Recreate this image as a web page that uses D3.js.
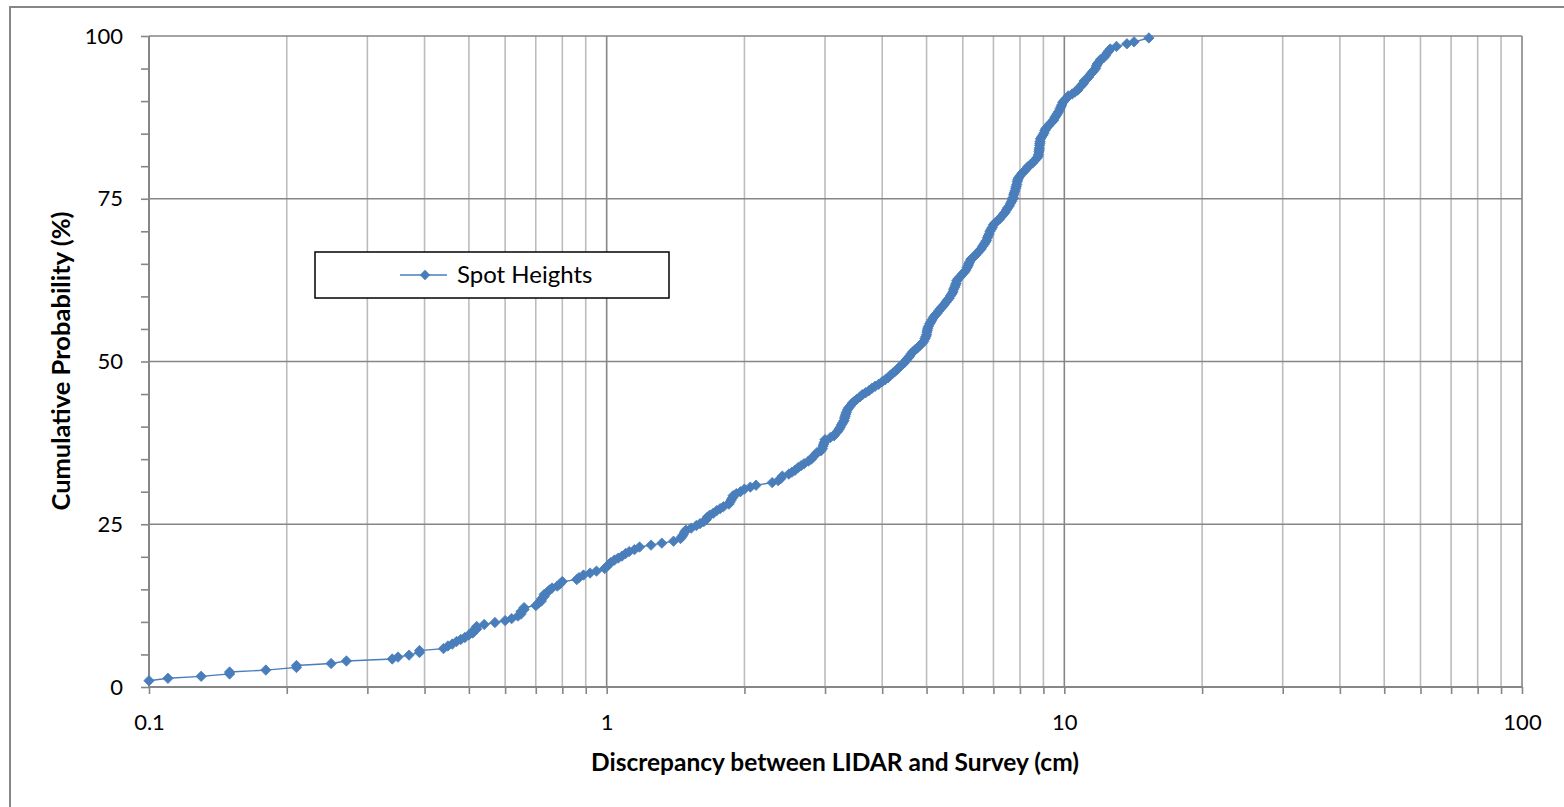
<!DOCTYPE html>
<html>
<head>
<meta charset="utf-8">
<script src="https://cdn.jsdelivr.net/npm/d3@7"></script>
<style>
  html, body { margin: 0; padding: 0; background: #ffffff; }
  svg { display: block; }
  text { font-family: Lato, "Open Sans", "Liberation Sans", sans-serif; fill: #000; }
</style>
</head>
<body>
<svg id="chart" width="1564" height="807"></svg>
<script>
// Absolute discrepancy between LIDAR and surveyed spot heights (cm), sorted
const discrepancyCm = [
  0.10, 0.11, 0.13, 0.15, 0.15, 0.18, 0.21, 0.21, 0.25, 0.27,
  0.34, 0.35, 0.37, 0.39, 0.39, 0.44, 0.45, 0.46, 0.47, 0.48,
  0.49, 0.50, 0.51, 0.51, 0.52, 0.52, 0.54, 0.57, 0.60, 0.62,
  0.64, 0.65, 0.65, 0.66, 0.66, 0.70, 0.71, 0.72, 0.72, 0.73,
  0.73, 0.74, 0.75, 0.76, 0.78, 0.79, 0.80, 0.86, 0.87, 0.89,
  0.92, 0.95, 0.99, 1.00, 1.01, 1.02, 1.04, 1.06, 1.08, 1.10,
  1.12, 1.15, 1.18, 1.25, 1.32, 1.40, 1.45, 1.46, 1.47, 1.48,
  1.49, 1.53, 1.57, 1.60, 1.63, 1.65, 1.66, 1.68, 1.71, 1.74,
  1.77, 1.80, 1.85, 1.86, 1.87, 1.88, 1.89, 1.92, 1.96, 2.00,
  2.06, 2.12, 2.30, 2.37, 2.40, 2.42, 2.50, 2.54, 2.58, 2.62,
  2.66, 2.70, 2.76, 2.80, 2.82, 2.85, 2.88, 2.94, 2.96, 2.97,
  2.98, 2.99, 3.00, 3.08, 3.14, 3.17, 3.20, 3.22, 3.24, 3.26,
  3.28, 3.30, 3.31, 3.32, 3.33, 3.34, 3.36, 3.38, 3.41, 3.44,
  3.48, 3.52, 3.58, 3.62, 3.68, 3.74, 3.80, 3.86, 3.93, 4.00,
  4.06, 4.12, 4.17, 4.22, 4.27, 4.32, 4.37, 4.42, 4.47, 4.51,
  4.55, 4.59, 4.63, 4.67, 4.72, 4.78, 4.84, 4.89, 4.93, 4.96,
  4.98, 5.00, 5.01, 5.02, 5.03, 5.05, 5.08, 5.11, 5.14, 5.18,
  5.22, 5.27, 5.32, 5.36, 5.41, 5.46, 5.51, 5.55, 5.60, 5.64,
  5.68, 5.71, 5.73, 5.76, 5.78, 5.80, 5.82, 5.86, 5.92, 5.98,
  6.04, 6.09, 6.13, 6.16, 6.18, 6.21, 6.25, 6.32, 6.39, 6.46,
  6.52, 6.58, 6.63, 6.68, 6.72, 6.76, 6.79, 6.82, 6.85, 6.88,
  6.92, 6.96, 7.00, 7.06, 7.14, 7.22, 7.30, 7.36, 7.42, 7.48,
  7.52, 7.58, 7.63, 7.67, 7.71, 7.73, 7.75, 7.77, 7.80, 7.83,
  7.85, 7.87, 7.89, 7.91, 7.94, 8.00, 8.08, 8.16, 8.24, 8.32,
  8.42, 8.52, 8.62, 8.70, 8.76, 8.78, 8.80, 8.81, 8.82, 8.83,
  8.84, 8.85, 8.87, 8.92, 8.98, 9.03, 9.07, 9.12, 9.20, 9.30,
  9.40, 9.48, 9.54, 9.60, 9.66, 9.72, 9.78, 9.83, 9.87, 9.92,
  10.0, 10.1, 10.2, 10.4, 10.55, 10.7, 10.8, 10.9, 11.0, 11.05,
  11.2, 11.3, 11.4, 11.5, 11.6, 11.7, 11.75, 11.8, 11.9, 12.0,
  12.2, 12.3, 12.4, 12.5, 12.6, 13.0, 13.7, 14.2, 15.3
];

// Cumulative probability (%) for each sorted discrepancy
const cumulativePct = [
  0.97, 1.34, 1.64, 2.0, 2.3, 2.6, 3.0, 3.3, 3.6, 4.0,
  4.3, 4.6, 4.9, 5.3, 5.6, 5.9, 6.3, 6.6, 7.0, 7.3,
  7.6, 8.0, 8.3, 8.6, 8.9, 9.3, 9.6, 9.9, 10.2, 10.5,
  10.9, 11.2, 11.6, 11.9, 12.2, 12.5, 12.9, 13.2, 13.5, 13.9,
  14.2, 14.5, 14.9, 15.2, 15.5, 15.8, 16.2, 16.5, 16.8, 17.2,
  17.5, 17.8, 18.2, 18.5, 18.8, 19.1, 19.5, 19.8, 20.1, 20.5,
  20.8, 21.1, 21.5, 21.8, 22.1, 22.4, 22.8, 23.1, 23.4, 23.8,
  24.1, 24.4, 24.8, 25.1, 25.4, 25.7, 26.1, 26.4, 26.7, 27.1,
  27.4, 27.7, 28.1, 28.4, 28.7, 29.0, 29.4, 29.7, 30.0, 30.4,
  30.7, 31.0, 31.4, 31.7, 32.0, 32.4, 32.7, 33.0, 33.3, 33.7,
  34.0, 34.3, 34.7, 35.0, 35.3, 35.6, 36.0, 36.3, 36.6, 37.0,
  37.3, 37.6, 38.0, 38.3, 38.6, 39.0, 39.3, 39.6, 39.9, 40.3,
  40.6, 40.9, 41.3, 41.6, 41.9, 42.2, 42.6, 42.9, 43.2, 43.6,
  43.9, 44.2, 44.6, 44.9, 45.2, 45.5, 45.9, 46.2, 46.5, 46.9,
  47.2, 47.5, 47.9, 48.2, 48.5, 48.8, 49.2, 49.5, 49.8, 50.2,
  50.5, 50.8, 51.2, 51.5, 51.8, 52.1, 52.5, 52.8, 53.1, 53.5,
  53.8, 54.1, 54.5, 54.8, 55.1, 55.4, 55.8, 56.1, 56.4, 56.8,
  57.1, 57.4, 57.8, 58.1, 58.4, 58.7, 59.1, 59.4, 59.7, 60.1,
  60.4, 60.7, 61.1, 61.4, 61.7, 62.0, 62.4, 62.7, 63.0, 63.4,
  63.7, 64.0, 64.4, 64.7, 65.0, 65.3, 65.7, 66.0, 66.3, 66.7,
  67.0, 67.3, 67.7, 68.0, 68.3, 68.6, 69.0, 69.3, 69.6, 70.0,
  70.3, 70.6, 71.0, 71.3, 71.6, 71.9, 72.3, 72.6, 72.9, 73.3,
  73.6, 73.9, 74.3, 74.6, 74.9, 75.2, 75.6, 75.9, 76.2, 76.6,
  76.9, 77.2, 77.6, 77.9, 78.2, 78.5, 78.9, 79.2, 79.5, 79.9,
  80.2, 80.5, 80.9, 81.2, 81.5, 81.8, 82.2, 82.5, 82.8, 83.2,
  83.5, 83.8, 84.2, 84.5, 84.8, 85.1, 85.5, 85.8, 86.1, 86.5,
  86.8, 87.1, 87.5, 87.8, 88.1, 88.4, 88.8, 89.1, 89.4, 89.8,
  90.1, 90.4, 90.8, 91.1, 91.4, 91.7, 92.1, 92.4, 92.7, 93.1,
  93.4, 93.7, 94.1, 94.4, 94.7, 95.0, 95.4, 95.7, 96.0, 96.4,
  96.7, 97.0, 97.4, 97.7, 98.0, 98.4, 98.8, 99.1, 99.7
];

const seriesName = "Spot Heights";
const xTickLabels = [0.1, 1, 10, 100];
const yTickLabels = [0, 25, 50, 75, 100];
const xTitle = "Discrepancy between LIDAR and Survey (cm)";
const yTitle = "Cumulative Probability (%)";

const points = discrepancyCm.map((d, i) => ({ x: d, y: cumulativePct[i] }));

const svg = d3.select("#chart");
const plot = { left: 149, right: 1522, top: 36, bottom: 687 };
const axisGrey = "#868686";
const minorGrey = "#bcbcbc";
const seriesBlue = "#4a7ebb";

const x = d3.scaleLog().domain([0.1, 100]).range([plot.left, plot.right]);
const y = d3.scaleLinear().domain([0, 100]).range([plot.bottom, plot.top]);

// Chart area border
svg.append("rect")
  .attr("x", 10).attr("y", 7)
  .attr("width", 1600).attr("height", 850)
  .attr("fill", "#fff")
  .attr("stroke", axisGrey).attr("stroke-width", 2);

// Every 1..9 step of each decade for ticks and vertical gridlines
const decadeSteps = [];
[0.1, 1, 10].forEach(base => {
  for (let k = 1; k <= 9; k++) decadeSteps.push(+(base * k).toPrecision(3));
});
decadeSteps.push(100);
const isDecade = v => xTickLabels.includes(v);

const grid = svg.append("g");
grid.selectAll("line.vminor")
  .data(decadeSteps.filter(v => !isDecade(v)))
  .join("line")
  .attr("x1", d => x(d)).attr("x2", d => x(d))
  .attr("y1", plot.top).attr("y2", plot.bottom)
  .attr("stroke", minorGrey).attr("stroke-width", 1.6);
grid.selectAll("line.vmajor")
  .data(xTickLabels.filter(v => v > 0.1))
  .join("line")
  .attr("x1", d => x(d)).attr("x2", d => x(d))
  .attr("y1", plot.top).attr("y2", plot.bottom)
  .attr("stroke", axisGrey).attr("stroke-width", 1.6);
grid.selectAll("line.h")
  .data(yTickLabels.filter(v => v > 0))
  .join("line")
  .attr("x1", plot.left).attr("x2", plot.right)
  .attr("y1", d => y(d)).attr("y2", d => y(d))
  .attr("stroke", axisGrey).attr("stroke-width", 1.6);

// X axis
const xAxis = d3.axisBottom(x)
  .tickValues(decadeSteps)
  .tickSize(7)
  .tickPadding(20)
  .tickFormat(d => isDecade(d) ? String(d) : "");
const gx = svg.append("g")
  .attr("transform", `translate(0,${plot.bottom})`)
  .call(xAxis);

// Y axis
const yMinor = d3.range(0, 101, 5);
const yAxis = d3.axisLeft(y)
  .tickValues(yMinor)
  .tickSize(8)
  .tickPadding(18)
  .tickFormat(d => yTickLabels.includes(d) ? String(d) : "");
const gy = svg.append("g")
  .attr("transform", `translate(${plot.left},0)`)
  .call(yAxis);

[gx, gy].forEach(g => {
  g.select(".domain").attr("stroke", axisGrey).attr("stroke-width", 2);
  g.selectAll(".tick line").attr("stroke", axisGrey).attr("stroke-width", 1.6);
  g.selectAll(".tick text")
    .attr("font-family", "Lato, 'Open Sans', sans-serif")
    .attr("font-size", 22).attr("fill", "#000");
});
gx.select(".domain").attr("d", `M${plot.left},0H${plot.right}`);
gy.select(".domain").attr("d", `M0,${plot.bottom}V${plot.top}`);

// Series line and diamond markers
const line = d3.line().x(d => x(d.x)).y(d => y(d.y));
svg.append("path")
  .datum(points)
  .attr("fill", "none")
  .attr("stroke", seriesBlue)
  .attr("stroke-width", 1.4)
  .attr("d", line);

const r = 5.2;
const diamond = `M0,${-r}L${r},0L0,${r}L${-r},0Z`;
svg.append("g").selectAll("path")
  .data(points)
  .join("path")
  .attr("transform", d => `translate(${x(d.x)},${y(d.y)})`)
  .attr("d", diamond)
  .attr("fill", seriesBlue)
  .attr("stroke", seriesBlue)
  .attr("stroke-width", 0.8);

// Legend
const legend = svg.append("g");
legend.append("rect")
  .attr("x", 315).attr("y", 252)
  .attr("width", 354).attr("height", 46)
  .attr("fill", "#fff")
  .attr("stroke", "#000").attr("stroke-width", 1.5);
legend.append("line")
  .attr("x1", 400).attr("x2", 447)
  .attr("y1", 275).attr("y2", 275)
  .attr("stroke", seriesBlue).attr("stroke-width", 1.4);
legend.append("path")
  .attr("transform", "translate(425,275)")
  .attr("d", diamond)
  .attr("fill", seriesBlue);
legend.append("text")
  .attr("x", 457).attr("y", 283)
  .attr("font-size", 24)
  .text(seriesName);

// Axis titles
svg.append("text")
  .attr("x", 835)
  .attr("y", 771)
  .attr("text-anchor", "middle")
  .attr("font-weight", "bold")
  .attr("font-size", 24.5)
  .text(xTitle);

svg.append("text")
  .attr("transform", `translate(70,361) rotate(-90)`)
  .attr("text-anchor", "middle")
  .attr("font-weight", "bold")
  .attr("font-size", 25.5)
  .text(yTitle);
</script>
</body>
</html>
